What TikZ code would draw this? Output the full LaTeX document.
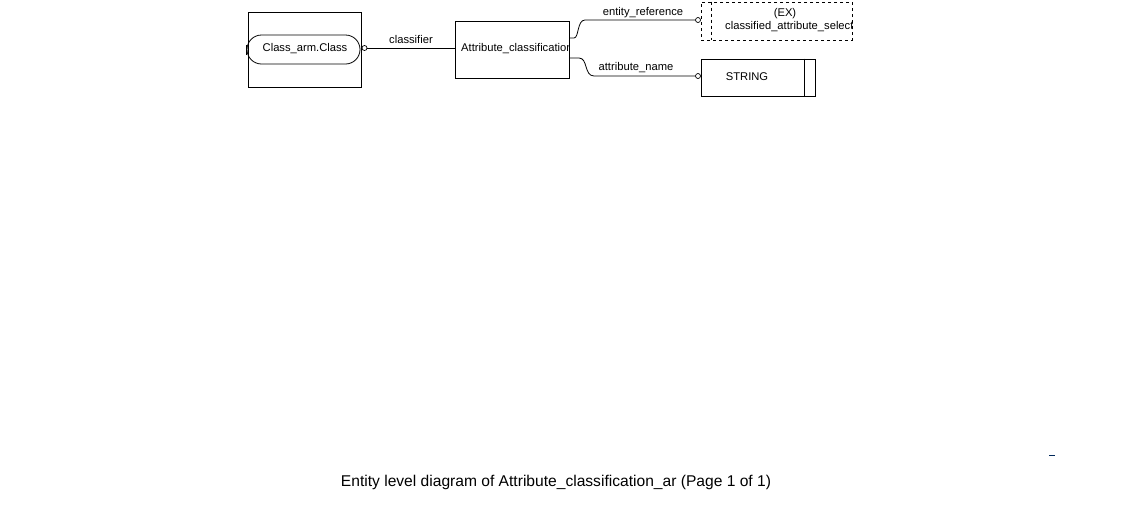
\documentclass[tikz,border=0pt]{standalone}
\usepackage{fontspec}
\setmainfont{Liberation Sans}
\usetikzlibrary{shapes.misc}
\begin{document}
\begin{tikzpicture}[x=1pt,y=-1pt,
  lbl/.style={font=\fontsize{11.2}{13}\selectfont, inner sep=0pt},
  ent/.style={draw=black, line width=0.8pt, inner sep=0pt},
  ring/.style={circle, draw=black, line width=0.7pt, fill=white, minimum size=5pt, inner sep=0pt},
  conn/.style={draw=black, line width=0.8pt}]
\useasboundingbox (0,0) rectangle (1127,523);
% Class_arm.Class
\node[ent, minimum width=113pt, minimum height=75pt] (cls) at (304.5,49.5) {};
\node[ent, rounded rectangle, minimum width=113pt, minimum height=29pt] (pill) at (303.5,49.5) {};
\node[lbl] (clst) at (305,49) {Class\_arm.Class};
\draw[line width=1.2pt] ([yshift=-5pt]pill.west) -- ([yshift=5pt]pill.west);
\node[ring] (r1) at (364.5,48) {};
% Attribute_classification
\node[ent, minimum width=114pt, minimum height=57pt] (attr) at (512,49.5) {};
\begin{scope}
\clip (attr.south west) rectangle (attr.north east);
\node[lbl, anchor=west] (attrt) at (461,48.5) {Attribute\_classification};
\end{scope}
\draw[conn] (r1.east) -- (attr.west |- r1.east) node[lbl, midway, above=4pt] (l1) {classifier};
% extensible select
\node[ent, dashed, minimum width=151pt, minimum height=38pt] (ext) at (776.5,21) {};
\draw[dashed, line width=0.8pt] (ext.north west) ++(11,0) coordinate (d1) -- (d1 |- ext.south);
\begin{scope}
\clip (ext.south west) rectangle (ext.north east);
\node[lbl] (ex1) at (785,14) {(EX)};
\node[lbl, anchor=west] (ex2) at (725,26.5) {classified\_attribute\_select};
\end{scope}
\node[ring] (r2) at (698,20) {};
% STRING
\node[ent, minimum width=114pt, minimum height=37pt] (str) at (758,77.5) {};
\draw[line width=0.8pt] ([xshift=-11pt]str.north east) -- ([xshift=-11pt]str.south east);
\node[lbl] (strt) at (747,77) {STRING};
\node[ring] (r3) at (698,76) {};
% connectors
\coordinate (a1) at (569,38);
\coordinate (a2) at (569,58);
\draw[conn] (a1) -- (574,38) .. controls (579,38) and (577,20) .. (585,20) -- (r2.west);
\node[lbl] (l2) at (643,12.5) {entity\_reference};
\draw[conn] (a2) -- (579,58) .. controls (588,58) and (584,76) .. (594,76) -- (r3.west);
\node[lbl] (l3) at (636,67.5) {attribute\_name};
% page mark
\draw[draw={rgb,255:red,0;green,40;blue,90}, line width=1pt] (1049,455.5) -- (1055,455.5);
% caption
\node[font=\fontsize{15.6}{18}\selectfont, inner sep=0pt] (cap) at (556,482) {Entity level diagram of Attribute\_classification\_ar (Page 1 of 1)};
\end{tikzpicture}
\end{document}
